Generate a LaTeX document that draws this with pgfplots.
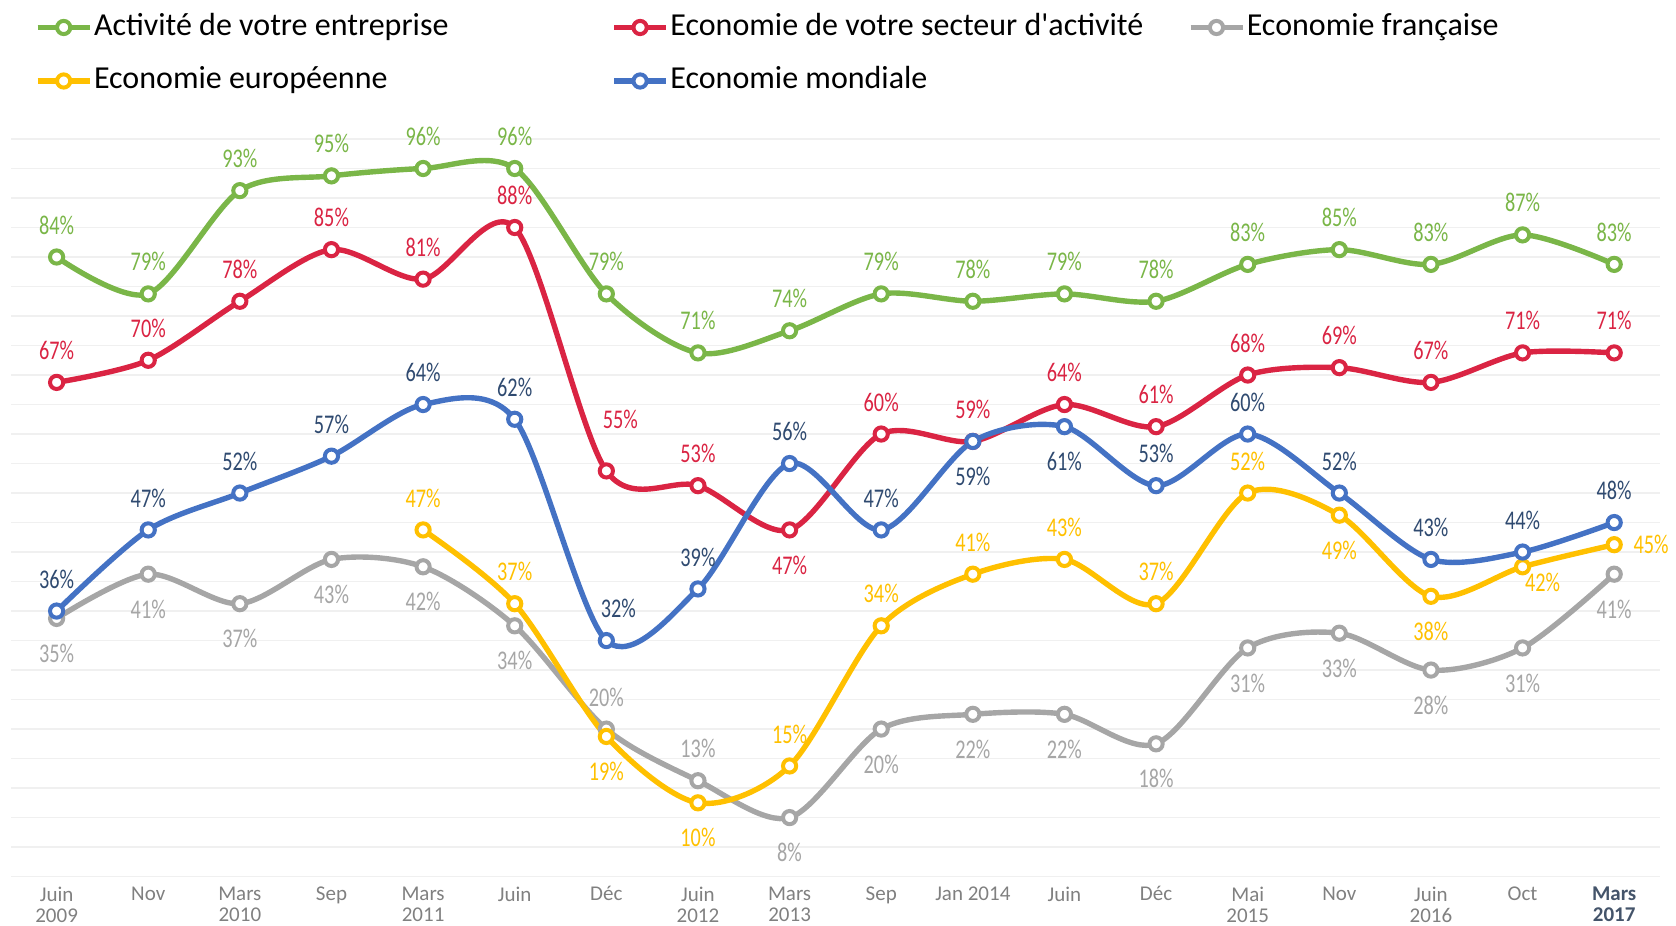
\documentclass[border=0pt]{standalone}
\usepackage{pgfplots}
\pgfplotsset{compat=1.18}
\usepackage{pgfplotstable}
\usepackage{fontspec}
\setmainfont{Carlito}
\newfontfamily\labfont[FakeStretch=0.75]{Carlito}

\definecolor{cgreen}{HTML}{7AB648}
\definecolor{cred}{HTML}{DA2443}
\definecolor{cgray}{HTML}{A6A6A6}
\definecolor{cyellow}{HTML}{FFC000}
\definecolor{cblue}{HTML}{4472C4}
\definecolor{cbluelab}{HTML}{2F4A70}
\definecolor{gridc}{HTML}{F0F0F0}
\definecolor{tickc}{HTML}{808080}
\definecolor{lastc}{HTML}{44546A}

% x y dx dy  (label offsets in pt)
\pgfplotstableread{
x y dx dy
0 84 0 16
1 79 0 16
2 93 0 16
3 95 0 16
4 96 0 16
5 96 0 16
6 79 0 16
7 71 0 16
8 74 0 16
9 79 0 16
10 78 0 16
11 79 0 16
12 78 0 16
13 83 0 16
14 85 0 16
15 83 0 16
16 87 0 16
17 83 0 16
}\tgreen

\pgfplotstableread{
x y dx dy
0 67 0 16
1 70 0 16
2 78 0 16
3 85 0 16
4 81 0 16
5 88 0 16
6 55 7 26
7 53 0 16
8 47 0 -17.5
9 60 0 16
10 59 0 16
11 64 0 16
12 61 0 16
13 68 0 16
14 69 0 16
15 67 0 16
16 71 0 16
17 71 0 16
}\tred

\pgfplotstableread{
x y dx dy
0 35 0 -17.5
1 41 0 -17.5
2 37 0 -17.5
3 43 0 -17.5
4 42 0 -17.5
5 34 0 -17.5
6 20 0 16
7 13 0 16
8 8 0 -17.5
9 20 0 -17.5
10 22 0 -17.5
11 22 0 -17.5
12 18 0 -17.5
13 31 0 -17.5
14 33 0 -17.5
15 28 0 -17.5
16 31 0 -17.5
17 41 0 -17.5
}\tgray

\pgfplotstableread{
x y dx dy
4 47 0 16
5 37 0 16
6 19 0 -17.5
7 10 0 -17.5
8 15 0 16
9 34 0 16
10 41 0 16
11 43 0 16
12 37 0 16
13 52 0 16
14 49 0 -17.5
15 38 0 -17.5
16 42 10 -8
17 45 18.5 0
}\tyellow

\pgfplotstableread{
x y dx dy
0 36 0 16
1 47 0 16
2 52 0 16
3 57 0 16
4 64 0 16
5 62 0 16
6 32 6 16
7 39 0 16
8 56 0 16
9 47 0 16
10 59 0 -17.5
11 61 0 -17.5
12 53 0 16
13 60 0 16
14 52 0 16
15 43 0 16
16 44 0 16
17 48 0 16
}\tblue

\begin{document}
\begin{tikzpicture}
\begin{axis}[
  scale only axis,
  width=824.6pt, height=368.8pt,
  xmin=-0.5, xmax=17.5, ymin=0, ymax=100,
  clip=false,
  xtick={0,...,17},
  xticklabels={{Juin\\2009},{Nov},{Mars\\2010},{Sep},{Mars\\2011},{Juin},{Déc},{Juin\\2012},{Mars\\2013},{Sep},{Jan 2014},{Juin},{Déc},{Mai\\2015},{Nov},{Juin\\2016},{Oct},{\textcolor{lastc}{\textbf{Mars}}\\\textcolor{lastc}{\textbf{2017}}}},
  typeset ticklabels with strut,
  xticklabel style={font=\fontsize{10.5}{9.6}\selectfont, text=tickc, align=center, anchor=north, inner sep=0pt, yshift=-4.8pt},
  ytick={0,4,...,100},
  yticklabels={},
  ymajorgrids,
  grid style={draw=gridc, line width=0.7pt},
  axis line style={draw=none},
  major tick length=0pt,
  /pgf/number format/.cd, fixed, precision=0, assume math mode=true, /pgfplots/.cd,
  every axis plot/.append style={line width=2.7pt, smooth, mark=*, mark size=3.3pt,
     mark options={fill=white, line width=2pt, solid}},
  nodes near coords={\pgfmathprintnumber{\pgfplotspointmeta}\%},
  visualization depends on={\thisrow{dx}\as\ldx},
  visualization depends on={\thisrow{dy}\as\ldy},
  every node near coord/.append style={anchor=center, inner sep=0pt, xshift=\ldx pt, yshift=\ldy pt,
     font=\labfont\fontsize{13.5}{14}\selectfont},
  legend columns=3,
  legend cell align=left,
  legend image code/.code={\draw[mark repeat=2,mark phase=2,#1] plot coordinates {(0pt,0pt)(13pt,0pt)(26pt,0pt)};},
  legend style={at={(axis description cs:0,1)}, anchor=north west, xshift=12.1pt, yshift=63.75pt,
     draw=none, fill=none, inner sep=0pt, outer sep=0pt,
     font=\fontsize{16}{19}\selectfont,
     /tikz/every even column/.append style={column sep=22.7pt},
     /tikz/every odd column/.append style={column sep=0.8pt},
     row sep=10.75pt,
     nodes={inner sep=0pt, text height=12pt, text depth=4pt}},
]
\addplot[color=cgreen, every node near coord/.append style={text=cgreen}] table[x=x,y=y] {\tgreen};
\addlegendentry{\makebox[236pt][l]{Activité de votre entreprise}}
\addplot[color=cred, every node near coord/.append style={text=cred}] table[x=x,y=y] {\tred};
\addlegendentry{\makebox[236pt][l]{Economie de votre secteur d\textquotesingle activité}}
\addplot[color=cgray, every node near coord/.append style={text=cgray}] table[x=x,y=y] {\tgray};
\addlegendentry{\makebox[236pt][l]{Economie française}}
\addplot[color=cyellow, every node near coord/.append style={text=cyellow}] table[x=x,y=y] {\tyellow};
\addlegendentry{\makebox[236pt][l]{Economie européenne}}
\addplot[color=cblue, every node near coord/.append style={text=cbluelab}] table[x=x,y=y] {\tblue};
\addlegendentry{\makebox[236pt][l]{Economie mondiale}}
\coordinate (SW) at (rel axis cs:0,0);
\end{axis}
\pgfresetboundingbox
\path (SW) ++(-5.4pt,-24.7pt) rectangle ++(838pt,463pt);
\end{tikzpicture}
\end{document}
